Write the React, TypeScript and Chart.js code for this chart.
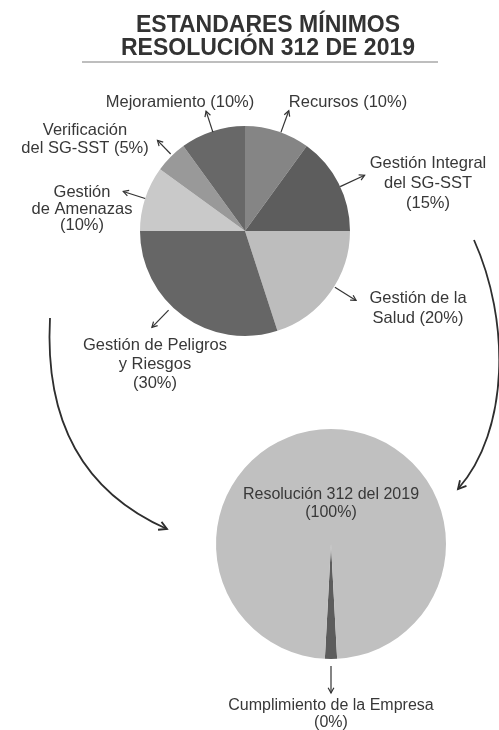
import React, { useEffect, useRef } from "react";
import Chart from "chart.js/auto";

// ---------- data ----------
const titleLines = ["ESTANDARES MÍNIMOS", "RESOLUCIÓN 312 DE 2019"];

const standardCategories = [
  ["Recursos"],
  ["Gestión Integral", "del SG-SST"],
  ["Gestión de la", "Salud"],
  ["Gestión de Peligros", "y Riesgos"],
  ["Gestión", "de Amenazas"],
  ["Verificación", "del SG-SST"],
  ["Mejoramiento"],
];
const standardValues = [10, 15, 20, 30, 10, 5, 10];

const complianceCategories = [["Cumplimiento de la Empresa"], ["Resolución 312 del 2019"]];
const compliancePercents = [0, 100];
// drawn sizes of the slices as they appear (the company slice shows as a thin sliver)
const complianceDrawnValues = [1.7, 98.3];

// ---------- styles / layout ----------
const standardColors = ["#858585", "#5d5d5d", "#bdbdbd", "#666666", "#c9c9c9", "#999999", "#686868"];
const complianceColors = ["#5c5c5c", "#c0c0c0"];
const TEXT = "#383838";
const FONT = "Liberation Sans, Arial, sans-serif";

const standardLabelLayout = [
  { x: 348, y: 107, lh: 19, pctOwnLine: false, ext: 23, adj: 2, start: 0 },
  { x: 428, y: 168, lh: 20, pctOwnLine: true, ext: 27, adj: 2, start: 0 },
  { x: 418, y: 303, lh: 20, pctOwnLine: false, ext: 26, adj: -4, start: 1 },
  { x: 155, y: 350, lh: 19, pctOwnLine: true, ext: 29, adj: 8, start: 5 },
  { x: 82, y: 197, lh: 16.5, pctOwnLine: true, ext: 23, adj: 0, start: 0 },
  { x: 85, y: 135, lh: 18, pctOwnLine: false, ext: 21, adj: 1, start: 2 },
  { x: 180, y: 107, lh: 19, pctOwnLine: false, ext: 21, adj: 0, start: -1 },
];
const complianceLabelLayout = [
  { x: 331, y: 710, lh: 17, pctOwnLine: true, ext: 34, start: 7, arrow: true },
  { x: 331, y: 499, lh: 18, pctOwnLine: true, ext: 0, start: 0, arrow: false },
];

function arrowHead(ctx: CanvasRenderingContext2D, x: number, y: number, ang: number, h: number) {
  ctx.beginPath();
  ctx.moveTo(x - h * Math.cos(ang - 0.5), y - h * Math.sin(ang - 0.5));
  ctx.lineTo(x, y);
  ctx.lineTo(x - h * Math.cos(ang + 0.5), y - h * Math.sin(ang + 0.5));
  ctx.stroke();
}

function arrow(ctx: CanvasRenderingContext2D, x1: number, y1: number, x2: number, y2: number) {
  ctx.beginPath();
  ctx.moveTo(x1, y1);
  ctx.lineTo(x2, y2);
  ctx.stroke();
  arrowHead(ctx, x2, y2, Math.atan2(y2 - y1, x2 - x1), 6);
}

function labelLines(cat: string[], pct: number, ownLine: boolean) {
  const lines = cat.slice();
  if (ownLine) lines.push(`(${pct}%)`);
  else lines[lines.length - 1] = `${lines[lines.length - 1]} (${pct}%)`;
  return lines;
}

const topPlugin = {
  id: "topDecor",
  afterDraw(chart: any) {
    const ctx: CanvasRenderingContext2D = chart.ctx;
    ctx.save();
    // title
    ctx.fillStyle = "#333333";
    ctx.font = `bold 23px ${FONT}`;
    ctx.textAlign = "center";
    ctx.textBaseline = "alphabetic";
    titleLines.forEach((t, i) => ctx.fillText(t, 268, 32 + i * 23));
    ctx.strokeStyle = "#a8a8a8";
    ctx.lineWidth = 1.5;
    ctx.beginPath();
    ctx.moveTo(82, 62);
    ctx.lineTo(438, 62);
    ctx.stroke();

    // slice labels and arrows
    const meta = chart.getDatasetMeta(0);
    ctx.strokeStyle = "#333333";
    ctx.lineWidth = 1.2;
    ctx.font = `16.5px ${FONT}`;
    ctx.fillStyle = TEXT;
    meta.data.forEach((arc: any, i: number) => {
      const p = arc.getProps(["x", "y", "startAngle", "endAngle", "outerRadius"], true);
      const L = standardLabelLayout[i];
      const a = (p.startAngle + p.endAngle) / 2 + (L.adj * Math.PI) / 180;
      const r0 = p.outerRadius + L.start;
      const r1 = p.outerRadius + L.ext;
      arrow(ctx, p.x + r0 * Math.cos(a), p.y + r0 * Math.sin(a), p.x + r1 * Math.cos(a), p.y + r1 * Math.sin(a));
      const lines = labelLines(standardCategories[i], standardValues[i], L.pctOwnLine);
      lines.forEach((t, j) => ctx.fillText(t, L.x, L.y + j * L.lh));
    });

    // curved connector arrows
    ctx.lineWidth = 1.8;
    ctx.strokeStyle = "#2e2e2e";
    const curves = [
      [50, 318, 44, 430, 90, 495, 167, 529],
      [474, 240, 510, 320, 510, 430, 458, 489],
    ];
    curves.forEach((c) => {
      ctx.beginPath();
      ctx.moveTo(c[0], c[1]);
      ctx.bezierCurveTo(c[2], c[3], c[4], c[5], c[6], c[7]);
      ctx.stroke();
      arrowHead(ctx, c[6], c[7], Math.atan2(c[7] - c[5], c[6] - c[4]), 9);
    });
    ctx.restore();
  },
};

const bottomPlugin = {
  id: "bottomDecor",
  afterDraw(chart: any) {
    const ctx: CanvasRenderingContext2D = chart.ctx;
    ctx.save();
    const meta = chart.getDatasetMeta(0);
    ctx.strokeStyle = "#333333";
    ctx.lineWidth = 1.2;
    ctx.font = `16px ${FONT}`;
    ctx.fillStyle = TEXT;
    ctx.textAlign = "center";
    ctx.textBaseline = "alphabetic";
    meta.data.forEach((arc: any, i: number) => {
      const p = arc.getProps(["x", "y", "startAngle", "endAngle", "outerRadius"], true);
      const L = complianceLabelLayout[i];
      if (L.arrow) {
        const a = (p.startAngle + p.endAngle) / 2;
        const r0 = p.outerRadius + L.start;
        const r1 = p.outerRadius + L.ext;
        arrow(ctx, p.x + r0 * Math.cos(a), p.y + r0 * Math.sin(a), p.x + r1 * Math.cos(a), p.y + r1 * Math.sin(a));
      }
      const lines = labelLines(complianceCategories[i], compliancePercents[i], L.pctOwnLine);
      lines.forEach((t, j) => ctx.fillText(t, L.x, L.y + j * L.lh));
    });
    ctx.restore();
  },
};

export default function App() {
  const topRef = useRef<HTMLCanvasElement>(null);
  const bottomRef = useRef<HTMLCanvasElement>(null);

  useEffect(() => {
    const common = {
      animation: false as const,
      responsive: false,
      maintainAspectRatio: false,
      events: [] as any[],
      plugins: { legend: { display: false }, tooltip: { enabled: false } },
    };
    const top = new Chart(topRef.current!, {
      type: "pie",
      data: {
        labels: standardCategories.map((c) => c.join(" ")),
        datasets: [{ data: standardValues, backgroundColor: standardColors, borderWidth: 0 }],
      },
      options: {
        ...common,
        rotation: 0,
        layout: { padding: { left: 140, right: 149, top: 126, bottom: 394 } },
      },
      plugins: [topPlugin],
    });
    const sum = complianceDrawnValues.reduce((s, v) => s + v, 0);
    const bottom = new Chart(bottomRef.current!, {
      type: "pie",
      data: {
        labels: complianceCategories.map((c) => c.join(" ")),
        datasets: [{ data: complianceDrawnValues, backgroundColor: complianceColors, borderWidth: 0 }],
      },
      options: {
        ...common,
        rotation: 180 - (180 * complianceDrawnValues[0]) / sum,
        layout: { padding: { left: 216, right: 53, top: 429, bottom: 71 } },
      },
      plugins: [bottomPlugin],
    });
    return () => {
      top.destroy();
      bottom.destroy();
    };
  }, []);

  return (
    <div style={{ position: "absolute", left: 0, top: 0, width: 499, height: 730, background: "#ffffff" }}>
      <canvas ref={topRef} width={499} height={730} style={{ position: "absolute", left: 0, top: 0 }} />
      <canvas ref={bottomRef} width={499} height={730} style={{ position: "absolute", left: 0, top: 0 }} />
    </div>
  );
}
